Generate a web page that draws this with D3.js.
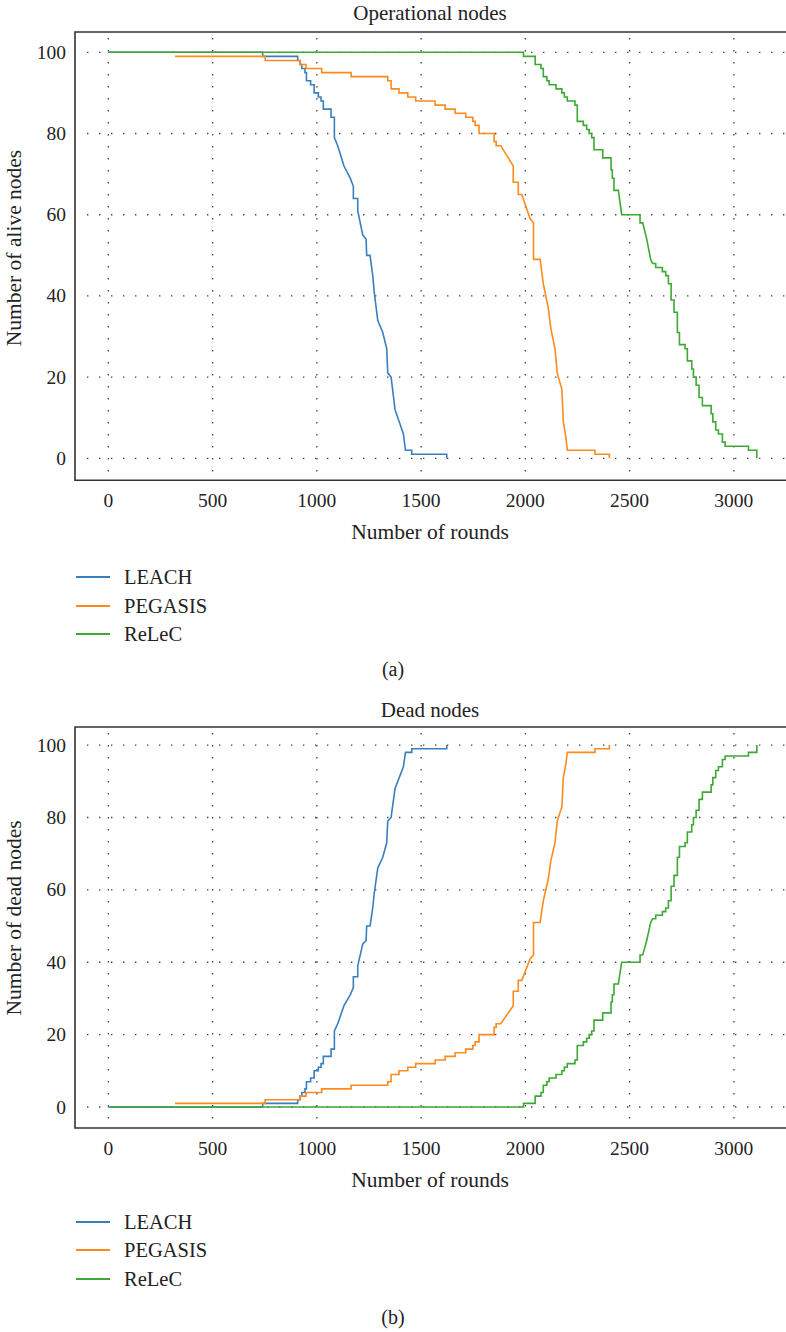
<!DOCTYPE html>
<html>
<head>
<meta charset="utf-8">
<script src="https://cdn.jsdelivr.net/npm/d3@7"></script>
<style>
  body { margin: 0; background: #fff; }
  svg { display: block; font-family: "Liberation Serif", "DejaVu Serif", serif; }
</style>
</head>
<body>
<svg width="786" height="1332"></svg>
<script>
// series + ticks
var seriesNames = ["LEACH", "PEGASIS", "ReLeC"];
var seriesColors = ["#3a7fbd", "#ff8a1e", "#3da833"];
var xTicks = [0, 500, 1000, 1500, 2000, 2500, 3000];
var yTicks = [0, 20, 40, 60, 80, 100];
var totalNodes = 100;

// alive nodes per round, vertices [round, alive]
var leachAlive = [
  [0,100],[740,100],[740,99],[908,99],[908,98],[919,98],[919,97],[928,97],[928,96],[943,96],
  [943,95],[950,95],[950,93],[970,93],[970,92],[987,92],[987,90],[1007,90],[1007,89],[1020,89],
  [1020,88],[1031,88],[1031,86],[1068,86],[1068,84],[1084,84],[1084,79],[1100,77],[1130,72],
  [1160,69],[1175,67],[1175,64],[1196,64],[1196,61],[1220,55],[1236,54],[1239,50],[1255,50],
  [1268,45],[1275,41],[1292,34],[1316,31],[1335,27],[1340,21],[1356,20],[1375,12],[1415,6],
  [1425,2],[1455,2],[1455,1],[1623,1],[1623,0]
];
var pegasisAlive = [
  [320,99],[752,99],[752,98],[919,98],[919,97],[948,97],[948,96],[1023,96],[1023,95],[1164,95],
  [1164,94],[1340,94],[1340,93],[1356,93],[1356,91],[1394,91],[1394,90],[1436,90],[1436,89],
  [1474,89],[1474,88],[1567,88],[1567,87],[1615,87],[1615,86],[1663,86],[1663,85],[1714,85],
  [1714,84],[1748,84],[1748,83],[1759,83],[1759,82],[1778,82],[1778,80],[1850,80],[1850,78],
  [1860,78],[1860,77],[1882,77],[1942,72],[1942,68],[1966,68],[1966,65],[1983,65],[2023,59],
  [2039,58],[2039,49],[2071,49],[2086,43],[2110,37],[2122,32],[2142,27],[2153,21],[2175,17],
  [2182,9],[2195,5],[2201,2],[2334,2],[2334,1],[2403,1],[2403,0]
];
var relecAlive = [
  [0,100],[1991,100],[1991,99],[2047,99],[2047,97],[2075,97],[2075,96],[2086,96],[2086,94],
  [2103,94],[2103,93],[2114,93],[2114,92],[2147,92],[2147,91],[2175,91],[2175,90],[2187,90],
  [2187,89],[2201,89],[2201,88],[2238,88],[2238,87],[2249,87],[2249,83],[2278,83],[2278,82],
  [2294,82],[2294,81],[2306,81],[2306,80],[2318,80],[2318,79],[2329,79],[2329,76],[2371,76],
  [2371,74],[2411,74],[2411,71],[2417,71],[2417,69],[2425,69],[2425,66],[2446,66],[2462,60],
  [2550,60],[2550,58],[2563,58],[2582,54],[2601,49],[2610,48],[2625,48],[2625,47],[2657,47],
  [2657,46],[2673,46],[2673,45],[2686,45],[2686,43],[2699,43],[2699,39],[2713,39],[2713,36],
  [2729,36],[2729,31],[2739,31],[2739,28],[2766,28],[2766,27],[2777,27],[2777,24],[2798,24],
  [2798,22],[2806,22],[2806,20],[2819,20],[2819,18],[2833,18],[2833,15],[2849,15],[2849,13],
  [2891,13],[2891,11],[2899,11],[2899,9],[2913,9],[2913,7],[2926,7],[2926,6],[2945,6],
  [2945,4],[2958,4],[2958,3],[3070,3],[3070,2],[3110,2],[3110,0]
];

var allAlive = [leachAlive, pegasisAlive, relecAlive];

var svg = d3.select("svg"),
    width = +svg.attr("width");

var left = 75;
var x = d3.scaleLinear().domain([-160, 3250]).range([left, width]);

function drawPanel(p) {
  var y = d3.scaleLinear().domain(p.yDomain).range([p.bottom, p.top]);
  var g = svg.append("g");

  // dotted grid
  g.append("g").selectAll("line")
    .data(yTicks)
    .join("line")
    .attr("x1", left + 12).attr("x2", width)
    .attr("y1", d => y(d)).attr("y2", d => y(d))
    .attr("stroke", "#444").attr("stroke-width", 1.3)
    .attr("stroke-dasharray", "1.4,10.6");

  g.append("g").selectAll("line")
    .data(xTicks)
    .join("line")
    .attr("x1", d => x(d)).attr("x2", d => x(d))
    .attr("y1", p.top + 6).attr("y2", p.bottom)
    .attr("stroke", "#444").attr("stroke-width", 1.3)
    .attr("stroke-dasharray", "1.4,10.6");

  // curves
  var line = d3.line()
    .x(d => x(d[0]))
    .y(d => y(p.value(d[1])));

  g.append("g").selectAll("path")
    .data(allAlive)
    .join("path")
    .attr("d", line)
    .attr("fill", "none")
    .attr("stroke", (d, i) => seriesColors[i])
    .attr("stroke-width", 1.6);

  // frame: top, left, bottom
  g.append("path")
    .attr("d", "M" + width + "," + p.top + "H" + left + "V" + p.bottom + "H" + width)
    .attr("fill", "none")
    .attr("stroke", "#333")
    .attr("stroke-width", 1.6);

  // tick labels
  g.append("g").selectAll("text")
    .data(xTicks)
    .join("text")
    .attr("x", d => x(d))
    .attr("y", p.bottom + 27)
    .attr("text-anchor", "middle")
    .attr("font-size", 19.5)
    .attr("fill", "#222")
    .text(d => d);

  g.append("g").selectAll("text")
    .data(yTicks)
    .join("text")
    .attr("x", 66)
    .attr("y", d => y(d) + 6.5)
    .attr("text-anchor", "end")
    .attr("font-size", 19.5)
    .attr("fill", "#222")
    .text(d => d);

  // titles
  g.append("text")
    .attr("x", 430).attr("y", p.titleY)
    .attr("text-anchor", "middle")
    .attr("font-size", 21)
    .attr("fill", "#222")
    .text(p.title);

  g.append("text")
    .attr("x", 430).attr("y", p.bottom + 59)
    .attr("text-anchor", "middle")
    .attr("font-size", 21.5)
    .attr("fill", "#222")
    .text("Number of rounds");

  g.append("text")
    .attr("transform", "translate(21," + p.labelY + ") rotate(-90)")
    .attr("text-anchor", "middle")
    .attr("font-size", 21.5)
    .attr("fill", "#222")
    .text(p.yLabel);

  // legend
  var leg = g.append("g").selectAll("g")
    .data(seriesNames)
    .join("g")
    .attr("transform", (d, i) => "translate(0," + p.legendY[i] + ")");

  leg.append("line")
    .attr("x1", 76).attr("x2", 110)
    .attr("stroke", (d, i) => seriesColors[i])
    .attr("stroke-width", 2);

  leg.append("text")
    .attr("x", 124).attr("y", 7)
    .attr("font-size", 20.5)
    .attr("fill", "#222")
    .text(d => d);

  g.append("text")
    .attr("x", 393).attr("y", p.captionY)
    .attr("text-anchor", "middle")
    .attr("font-size", 20)
    .attr("fill", "#222")
    .text(p.caption);
}

drawPanel({
  title: "Operational nodes",
  yLabel: "Number of alive nodes",
  top: 32, bottom: 480.3, yDomain: [-5.4, 105],
  value: a => a,
  titleY: 19.5, labelY: 248,
  legendY: [577, 606, 634],
  caption: "(a)", captionY: 676
});

drawPanel({
  title: "Dead nodes",
  yLabel: "Number of dead nodes",
  top: 727, bottom: 1128, yDomain: [-5.8, 105],
  value: a => totalNodes - a,
  titleY: 717, labelY: 918,
  legendY: [1222, 1250, 1279],
  caption: "(b)", captionY: 1324
});
</script>
</body>
</html>
